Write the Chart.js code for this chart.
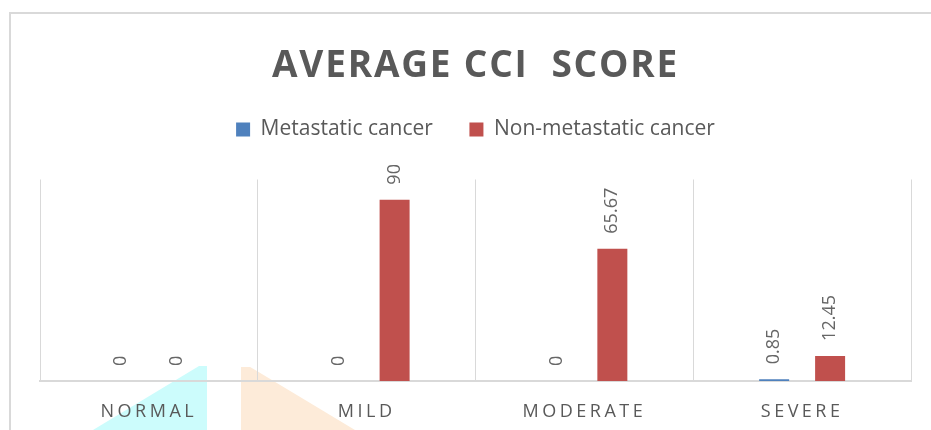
<!DOCTYPE html>
<html>
<head>
<meta charset="utf-8">
<script src="https://cdn.jsdelivr.net/npm/chart.js@4"></script>
<style>
  html, body { margin: 0; padding: 0; background: #ffffff; }
  #wrap { position: relative; width: 931px; height: 430px; overflow: hidden; background: #ffffff; }
  #frame { position: absolute; left: 9px; top: 12px; width: 960px; height: 460px; border: 2px solid #d9d9d9; box-sizing: border-box; }
  .tri { position: absolute; }
  #triA { left: 93px; top: 366px; width: 114px; height: 64px; background: #ccfcfc; clip-path: polygon(0 100%, 93% 0, 100% 0, 100% 100%); }
  #triB { left: 241px; top: 367px; width: 114px; height: 63px; background: #fdebd9; clip-path: polygon(0 0, 8% 0, 100% 100%, 0 100%); }
  canvas { position: absolute; left: 0; top: 0; }
</style>
</head>
<body>
<div id="wrap">
  <div id="frame"></div>
  <div class="tri" id="triA"></div>
  <div class="tri" id="triB"></div>
  <canvas id="c" width="931" height="430"></canvas>
</div>
<script>
const chartTitle = "AVERAGE CCI  SCORE";
const categories = ["NORMAL", "MILD", "MODERATE", "SEVERE"];
const seriesNames = ["Metastatic cancer", "Non-metastatic cancer"];
const metastatic = [0, 0, 0, 0.85];
const nonMetastatic = [0, 90, 65.67, 12.45];
const yMin = 0;
const yMax = 100;

const textGray = "#595959";
const gridGray = "#d9d9d9";

const spacingPlugin = {
  id: "letterSpacing",
  afterUpdate(chart) {
    const tb = chart.titleBlock;
    if (tb && !tb._ls) {
      const d = tb.draw.bind(tb);
      tb.draw = function () { const ctx = this.ctx; ctx.save(); ctx.letterSpacing = "1.8px"; d(); ctx.restore(); };
      tb._ls = true;
    }
    const sx = chart.scales.x;
    if (sx && !sx._ls) {
      const dl = sx.drawLabels.bind(sx);
      sx.drawLabels = function (area) { const ctx = this.ctx; ctx.save(); ctx.letterSpacing = "3.5px"; dl(area); ctx.restore(); };
      sx._ls = true;
    }
  }
};

const valueLabels = {
  id: "valueLabels",
  afterDatasetsDraw(chart) {
    const ctx = chart.ctx;
    ctx.save();
    ctx.font = "18px 'Open Sans'";
    ctx.fillStyle = "#666666";
    ctx.textAlign = "left";
    ctx.textBaseline = "middle";
    chart.data.datasets.forEach((ds, di) => {
      const meta = chart.getDatasetMeta(di);
      meta.data.forEach((bar, i) => {
        const v = ds.data[i];
        ctx.save();
        ctx.translate(bar.x, bar.y - 15);
        ctx.rotate(-Math.PI / 2);
        ctx.fillText(String(v), 0, 0);
        ctx.restore();
      });
    });
    ctx.restore();
  }
};

new Chart(document.getElementById("c"), {
  type: "bar",
  data: {
    labels: categories,
    datasets: [
      { label: seriesNames[0], data: metastatic, backgroundColor: "#4f81bd", borderWidth: 0,
        categoryPercentage: 0.514, barPercentage: 0.536 },
      { label: seriesNames[1], data: nonMetastatic, backgroundColor: "#c0504d", borderWidth: 0,
        categoryPercentage: 0.514, barPercentage: 0.536 }
    ]
  },
  options: {
    responsive: false,
    animation: false,
    layout: { padding: { left: 40, right: 20, top: 0, bottom: 0 } },
    plugins: {
      title: {
        display: true, text: chartTitle, color: textGray,
        font: { family: "'Open Sans'", size: 37, weight: "bold", lineHeight: 0.757 },
        padding: { top: 52.5, bottom: 2 }
      },
      legend: {
        display: true, position: "top",
        labels: {
          color: textGray, boxWidth: 14, boxHeight: 14, padding: 36.5,
          font: { family: "'Open Sans'", size: 21 }
        }
      },
      tooltip: { enabled: false }
    },
    scales: {
      x: {
        type: "category",
        grid: { display: true, offset: true, color: gridGray, lineWidth: 1, drawTicks: false },
        border: { display: true, color: gridGray, width: 2 },
        ticks: { color: textGray, padding: 20, font: { family: "'Open Sans'", size: 18 } },
        afterFit(scale) { scale.height = 49; }
      },
      xTopSpace: {
        type: "category", position: "top", labels: categories, display: true,
        grid: { display: false }, border: { display: false }, ticks: { display: false },
        afterFit(scale) { scale.height = 29.5; }
      },
      y: { display: false, min: yMin, max: yMax }
    }
  },
  plugins: [spacingPlugin, valueLabels]
});
</script>
</body>
</html>
